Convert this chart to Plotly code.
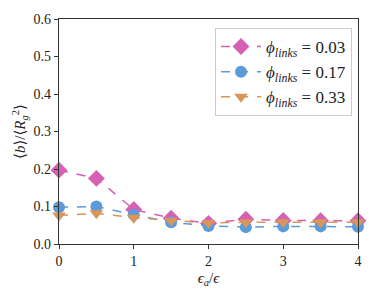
import plotly.graph_objects as go

x_vals = [0, 0.5, 1, 1.5, 2, 2.5, 3, 3.5, 4]
phi_003 = [0.197, 0.175, 0.092, 0.069, 0.055, 0.066, 0.063, 0.062, 0.062]
phi_017 = [0.098, 0.100, 0.078, 0.058, 0.048, 0.045, 0.047, 0.047, 0.046]
phi_033 = [0.076, 0.082, 0.070, 0.062, 0.056, 0.058, 0.058, 0.058, 0.058]
labels = ["0.03", "0.17", "0.33"]
x_ticks = [0, 1, 2, 3, 4]
y_ticks = [0.0, 0.1, 0.2, 0.3, 0.4, 0.5, 0.6]

series = [
    (phi_003, labels[0], "#d660b4", "diamond", 13),
    (phi_017, labels[1], "#5b9bd9", "circle", 12),
    (phi_033, labels[2], "#d9965a", "triangle-down", 12),
]

fig = go.Figure()
for ys, lab, col, sym, sz in series:
    fig.add_trace(go.Scatter(
        x=x_vals, y=ys, mode="lines+markers",
        name=f"<i>ϕ<sub>links</sub></i> = {lab}",
        line=dict(color=col, width=1.5, dash="dash"),
        marker=dict(symbol=sym, size=sz, color=col, line=dict(width=0)),
        cliponaxis=False,
    ))

font_family = "'Liberation Serif', 'DejaVu Serif', serif"
axis_common = dict(
    showgrid=False, zeroline=False, showline=True, linecolor="#333",
    linewidth=1.2, mirror=True, ticks="outside", ticklen=4, tickcolor="#333",
    tickfont=dict(family=font_family, size=14, color="#222"),
)
fig.update_xaxes(range=[0, 4], tickvals=x_ticks, ticktext=[str(t) for t in x_ticks],
                 title=dict(text="<i>ϵ<sub>a</sub></i>/<i>ϵ</i>", font=dict(family=font_family, size=15, color="#222"), standoff=4),
                 **axis_common)
fig.update_yaxes(range=[0, 0.6], tickvals=y_ticks, ticktext=[f"{t:.1f}" for t in y_ticks],
                 title=dict(text="⟨<i>b</i>⟩/⟨<i>R</i><sub><i>g</i></sub><sup>2</sup>⟩", font=dict(family=font_family, size=15, color="#222"), standoff=4),
                 **axis_common)
fig.update_layout(
    width=374, height=295,
    font=dict(family=font_family, color="#222"),
    margin=dict(l=59, r=12, t=14, b=50),
    plot_bgcolor="white", paper_bgcolor="white",
    legend=dict(x=0.98, y=0.96, xanchor="right", yanchor="top",
                bordercolor="#cccccc", borderwidth=1, bgcolor="rgba(255,255,255,0.8)",
                font=dict(family=font_family, size=17, color="#222"),
                itemwidth=40, tracegroupgap=0),
    showlegend=True,
)
fig.write_html("out.html", config={"displayModeBar": False},
               post_script="document.body.style.margin='0';")
